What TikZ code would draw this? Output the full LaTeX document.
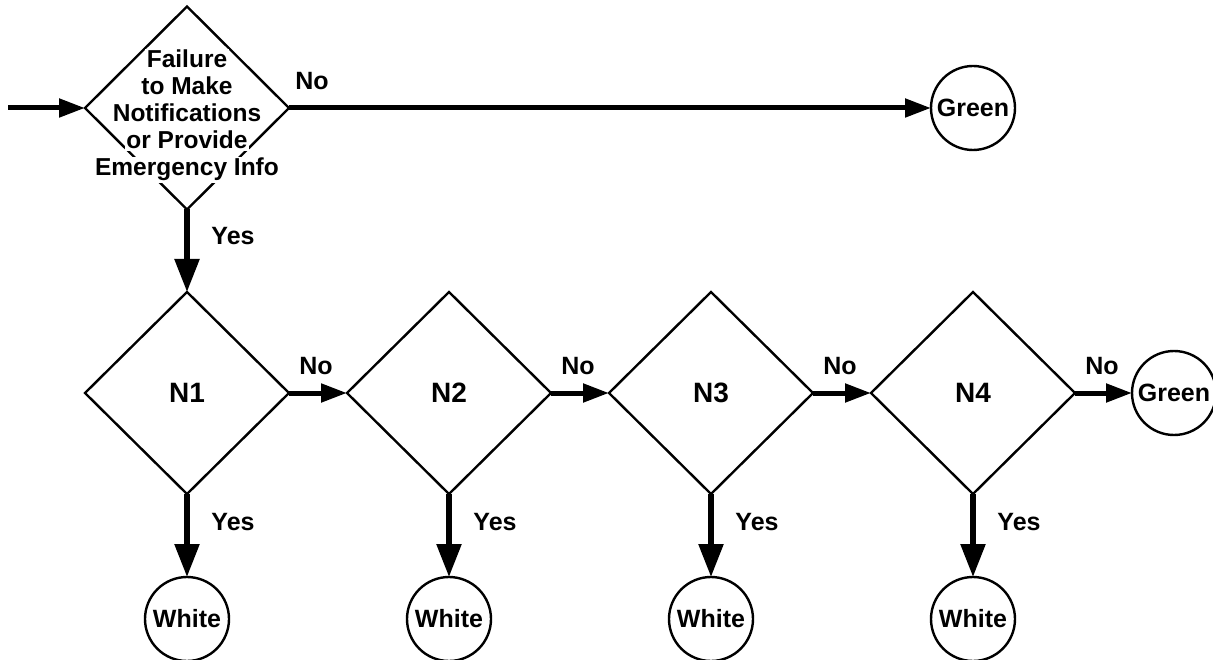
\documentclass[tikz,border=0pt]{standalone}
\usepackage{fontspec}
\setmainfont{Liberation Sans}
\usetikzlibrary{shapes.geometric,arrows.meta}
\begin{document}
\begin{tikzpicture}[x=1pt,y=-1pt,
  dia/.style={diamond,draw,line width=2.4pt,minimum width=204pt,minimum height=202pt,inner sep=0pt,outer sep=0pt,font=\fontsize{28}{32}\selectfont\bfseries},
  term/.style={circle,draw,line width=2.4pt,minimum size=84pt,inner sep=0pt,outer sep=0pt,font=\fontsize{25}{30}\selectfont\bfseries},
  lbl/.style={font=\fontsize{25}{30}\selectfont\bfseries,inner sep=0pt,anchor=base},
  qline/.style={font=\fontsize{24.5}{28}\selectfont\bfseries,fill=white,inner sep=1.5pt,anchor=base},
  flowv/.style={line width=5.5pt,-{Triangle[length=33pt,width=24pt]}},
  flowh/.style={line width=5pt,-{Triangle[length=26pt,width=18pt]}}]
\useasboundingbox (0,0) rectangle (1213,660);
% top decision
\node[dia,minimum height=203pt] (q) at (187,108) {};
\node[qline] (q1) at (187,68) {Failure};
\node[qline] (q2) at (187,95) {to Make};
\node[qline] (q3) at (187,122) {Notifications};
\node[qline] (q4) at (187,149) {or Provide};
\node[qline] (q5) at (187,176) {Emergency Info};
\coordinate (in) at (8,108);
\node[term] (g0) at (973,108) {Green};
\draw[flowh] (in) -- (q.west);
\draw[flowh] (q.east) -- (g0.west);
\node[lbl] (l0) at (312,90) {No};
% row of decisions
\foreach \i/\x in {1/187,2/449,3/711,4/973}{
  \node[dia] (n\i) at (\x,393) {N\i};
  \node[term] (w\i) at (\x,619) {White};
  \draw[flowv] (n\i.south) -- (w\i.north);
  \node[lbl] (y\i) at (\x+46,530) {Yes};
}
\node[term] (g1) at (1174,393) {Green};
\draw[flowv] (q.south) -- (n1.north);
\node[lbl] (y0) at (233,245) {Yes};
\draw[flowh] (n1.east) -- (n2.west);
\draw[flowh] (n2.east) -- (n3.west);
\draw[flowh] (n3.east) -- (n4.west);
\draw[flowh] (n4.east) -- (g1.west);
\node[lbl] (l1) at (316,374) {No};
\node[lbl] (l2) at (578,374) {No};
\node[lbl] (l3) at (840,374) {No};
\node[lbl] (l4) at (1102,374) {No};
\end{tikzpicture}
\end{document}
